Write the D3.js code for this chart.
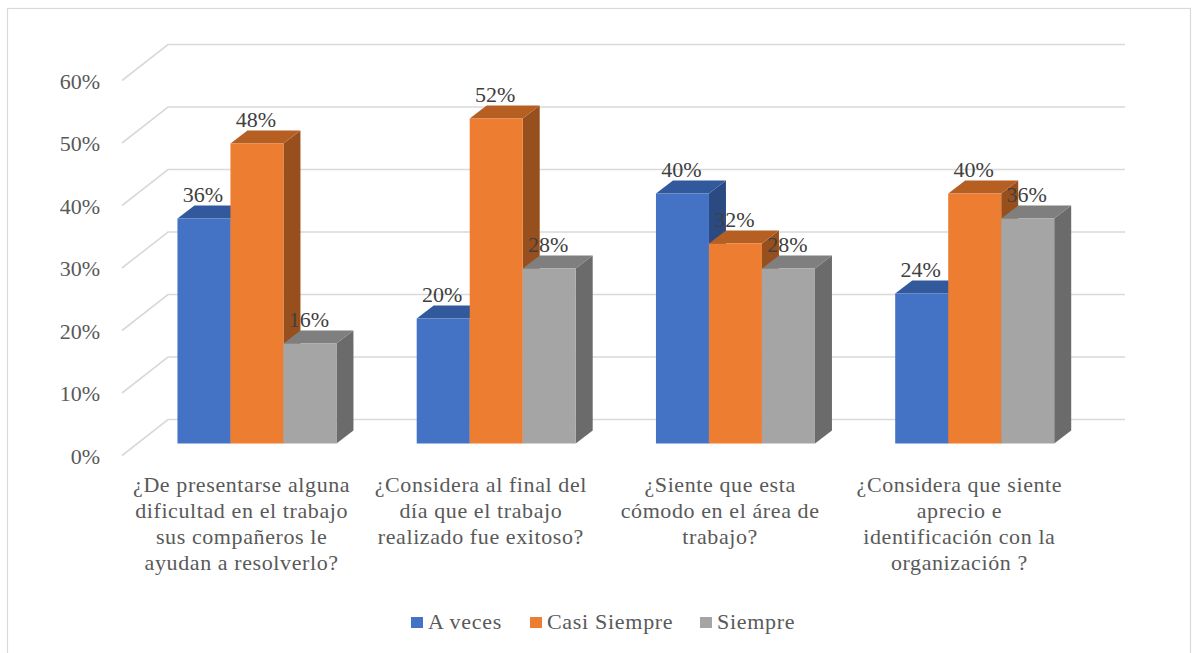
<!DOCTYPE html>
<html>
<head>
<meta charset="utf-8">
<script src="https://cdn.jsdelivr.net/npm/d3@7"></script>
<style>
  html, body { margin: 0; padding: 0; background: #ffffff; }
  svg { display: block; }
</style>
</head>
<body>
<svg id="chart" width="1192" height="653" font-family="'Liberation Serif', 'Times New Roman', serif"></svg>
<script>
// Survey questions (x categories), one label line per array entry
const categories = [
  ["¿De presentarse alguna", "dificultad en el trabajo", "sus compañeros le", "ayudan a resolverlo?"],
  ["¿Considera al final del", "día que el trabajo", "realizado fue exitoso?"],
  ["¿Siente que esta", "cómodo en el área de", "trabajo?"],
  ["¿Considera que siente", "aprecio e", "identificación con la", "organización ?"]
];
const seriesNames = ["A veces", "Casi Siempre", "Siempre"];
const aVeces       = [0.36, 0.20, 0.40, 0.24];
const casiSiempre  = [0.48, 0.52, 0.32, 0.40];
const siempre      = [0.16, 0.28, 0.28, 0.36];
const yTicks = [0, 0.1, 0.2, 0.3, 0.4, 0.5, 0.6];

// face colours per series: front, top, side
const palette = [
  { front: "#4472c4", top: "#32599c", side: "#2b4a82" },
  { front: "#ed7d31", top: "#b65f22", side: "#974f1d" },
  { front: "#a5a5a5", top: "#7f7f7f", side: "#6b6b6b" }
];

const seriesValues = [aVeces, casiSiempre, siempre];
const catIndex = categories.map((c, i) => i);

const svg = d3.select("#chart");

// chart frame
svg.append("rect")
  .attr("x", 7.5).attr("y", 8.5)
  .attr("width", 1183).attr("height", 700)
  .attr("fill", "#ffffff").attr("stroke", "#d9d9d9").attr("stroke-width", 1.2);

// front plane of the 3D box, plus the depth vector to the back wall
const y = d3.scaleLinear().domain([0, 0.6]).range([455.5, 80.5]);
const x = d3.scaleBand().domain(catIndex).range([122, 1079]);
const depth = { dx: 46, dy: -36 };
const barPlane = 1 / 3;                 // bars stand one third of the way back
const barDepth = { dx: 17, dy: -13 };   // thickness of each column
const groupWidth = 159;

const bx = depth.dx * barPlane, by = depth.dy * barPlane;

// gridlines: side-wall diagonals and back-wall horizontals
const grid = svg.append("g").attr("stroke", "#d9d9d9").attr("stroke-width", 1.6).attr("fill", "none");
yTicks.forEach(t => {
  const yf = y(t);
  const x0 = x.range()[0], x1 = x.range()[1];
  grid.append("path").attr("d",
    `M${x0},${yf}L${x0 + depth.dx},${yf + depth.dy}L${x1 + depth.dx},${yf + depth.dy}`);
});

// value axis labels
svg.append("g").selectAll("text")
  .data(yTicks).join("text")
  .attr("x", 100).attr("y", d => y(d) + 8)
  .attr("text-anchor", "end")
  .attr("font-size", 22).attr("fill", "#595959")
  .text(d => d3.format(".0%")(d));

// columns
const inner = d3.scaleBand().domain(d3.range(seriesNames.length));
const bars = svg.append("g");
const labels = [];
catIndex.forEach(ci => {
  const cx = x(ci) + x.bandwidth() / 2 + bx;
  inner.range([cx - groupWidth / 2, cx + groupWidth / 2]);
  seriesValues.forEach((vals, si) => {
    const v = vals[ci];
    const x0 = inner(si), w = inner.bandwidth();
    const yb = y(0) + by, yt = y(v) + by;
    const c = palette[si];
    const g = bars.append("g");
    g.append("polygon").attr("fill", c.side)
      .attr("points", [[x0 + w, yt], [x0 + w + barDepth.dx, yt + barDepth.dy],
                       [x0 + w + barDepth.dx, yb + barDepth.dy], [x0 + w, yb]].join(" "));
    g.append("polygon").attr("fill", c.top)
      .attr("points", [[x0, yt], [x0 + w, yt], [x0 + w + barDepth.dx, yt + barDepth.dy],
                       [x0 + barDepth.dx, yt + barDepth.dy]].join(" "));
    g.append("rect").attr("fill", c.front)
      .attr("x", x0).attr("y", yt).attr("width", w).attr("height", yb - yt);
    labels.push({ x: x0 + w / 2 - 1, y: yt + barDepth.dy - 4, v });
  });
});

// data labels on top of all columns
svg.append("g").selectAll("text")
  .data(labels).join("text")
  .attr("x", d => d.x).attr("y", d => d.y)
  .attr("text-anchor", "middle")
  .attr("font-size", 22).attr("fill", "#404040")
  .text(d => d3.format(".0%")(d.v));

// category labels, centred on the front plane
const cat = svg.append("g").attr("font-size", 22).attr("letter-spacing", 0.6)
  .attr("fill", "#595959").attr("text-anchor", "middle");
catIndex.forEach(ci => {
  const t = cat.append("text")
    .attr("x", x(ci) + x.bandwidth() / 2).attr("y", 492);
  categories[ci].forEach((line, li) => {
    t.append("tspan").attr("x", x(ci) + x.bandwidth() / 2)
      .attr("y", 492 + li * 26).text(line);
  });
});

// legend
const legendX = [411, 530, 700];
const leg = svg.append("g");
seriesNames.forEach((name, i) => {
  leg.append("rect").attr("x", legendX[i]).attr("y", 617)
    .attr("width", 12).attr("height", 11).attr("fill", palette[i].front);
  leg.append("text").attr("x", legendX[i] + 17).attr("y", 629)
    .attr("font-size", 22).attr("letter-spacing", 0.7)
    .attr("fill", "#595959").text(name);
});
</script>
</body>
</html>
